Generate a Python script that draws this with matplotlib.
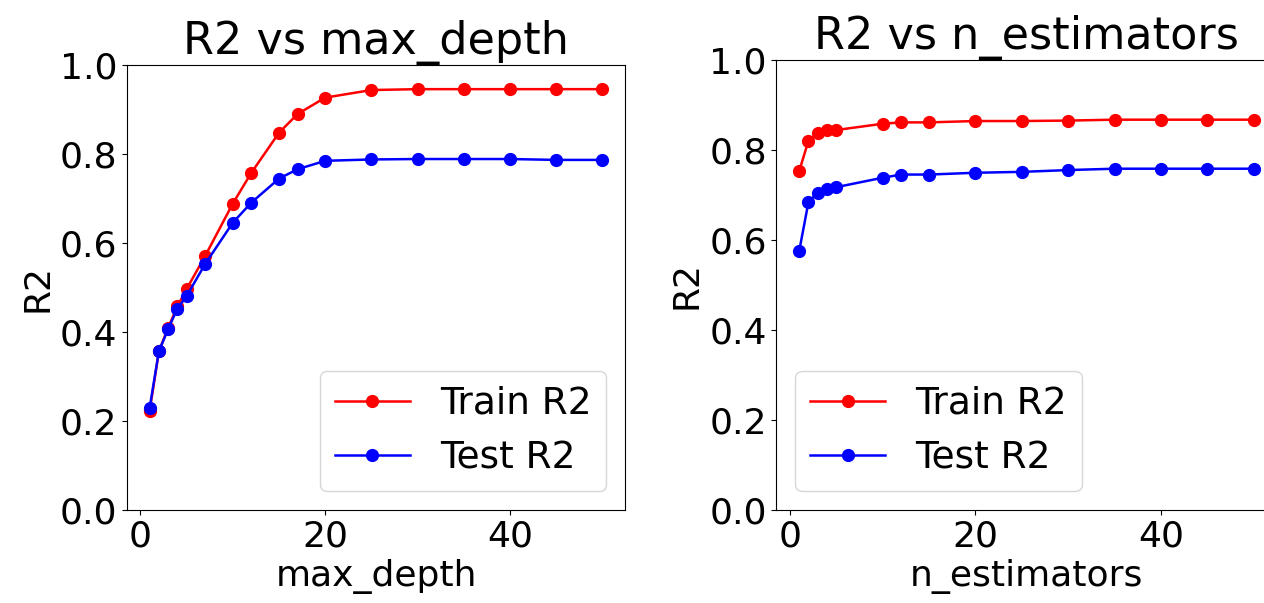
import matplotlib
matplotlib.use("Agg")
import matplotlib.pyplot as plt

# max_depth sweep
depths = [1, 2, 3, 4, 5, 7, 10, 12, 15, 17, 20, 25, 30, 35, 40, 45, 50]
depth_train_r2 = [0.223, 0.357, 0.410, 0.458, 0.497, 0.571, 0.689, 0.758, 0.848,
                  0.890, 0.927, 0.944, 0.946, 0.946, 0.946, 0.946, 0.946]
depth_test_r2 = [0.230, 0.357, 0.407, 0.453, 0.481, 0.553, 0.646, 0.691, 0.745,
                 0.766, 0.785, 0.788, 0.789, 0.789, 0.789, 0.787, 0.787]

# n_estimators sweep
n_estimators = [1, 2, 3, 4, 5, 10, 12, 15, 20, 25, 30, 35, 40, 45, 50]
est_train_r2 = [0.754, 0.821, 0.838, 0.844, 0.845, 0.859, 0.862, 0.862, 0.865,
                0.865, 0.866, 0.868, 0.868, 0.868, 0.868]
est_test_r2 = [0.576, 0.685, 0.706, 0.715, 0.718, 0.739, 0.746, 0.746, 0.750,
               0.752, 0.756, 0.759, 0.759, 0.759, 0.759]

FS = 26

fig = plt.figure(figsize=(12.64, 6.03), dpi=100)
# the original was cropped on the right, so the second axes runs past the edge
ax1 = fig.add_axes([0.1005, 0.154, 0.394, 0.738])
ax2 = fig.add_axes([0.6143, 0.154, 0.3956, 0.746])


def draw(ax, x, train, test, xlabel, title, loc):
    ax.plot(x, train, "o-", color="red", label="Train R2", markersize=8.5, linewidth=1.8)
    ax.plot(x, test, "o-", color="blue", label="Test R2", markersize=8.5, linewidth=1.8)
    ax.set_ylim(0, 1)
    ax.set_xlabel(xlabel, fontsize=FS)
    ax.set_ylabel("R2", fontsize=FS)
    ax.set_title(title, fontsize=32)
    ax.tick_params(labelsize=FS)
    ax.legend(fontsize=27, loc=loc)


draw(ax1, depths, depth_train_r2, depth_test_r2, "max_depth", "R2 vs max_depth", "lower right")
draw(ax2, n_estimators, est_train_r2, est_test_r2, "n_estimators", "R2 vs n_estimators", "lower left")

fig.savefig("out.png", dpi=100)
